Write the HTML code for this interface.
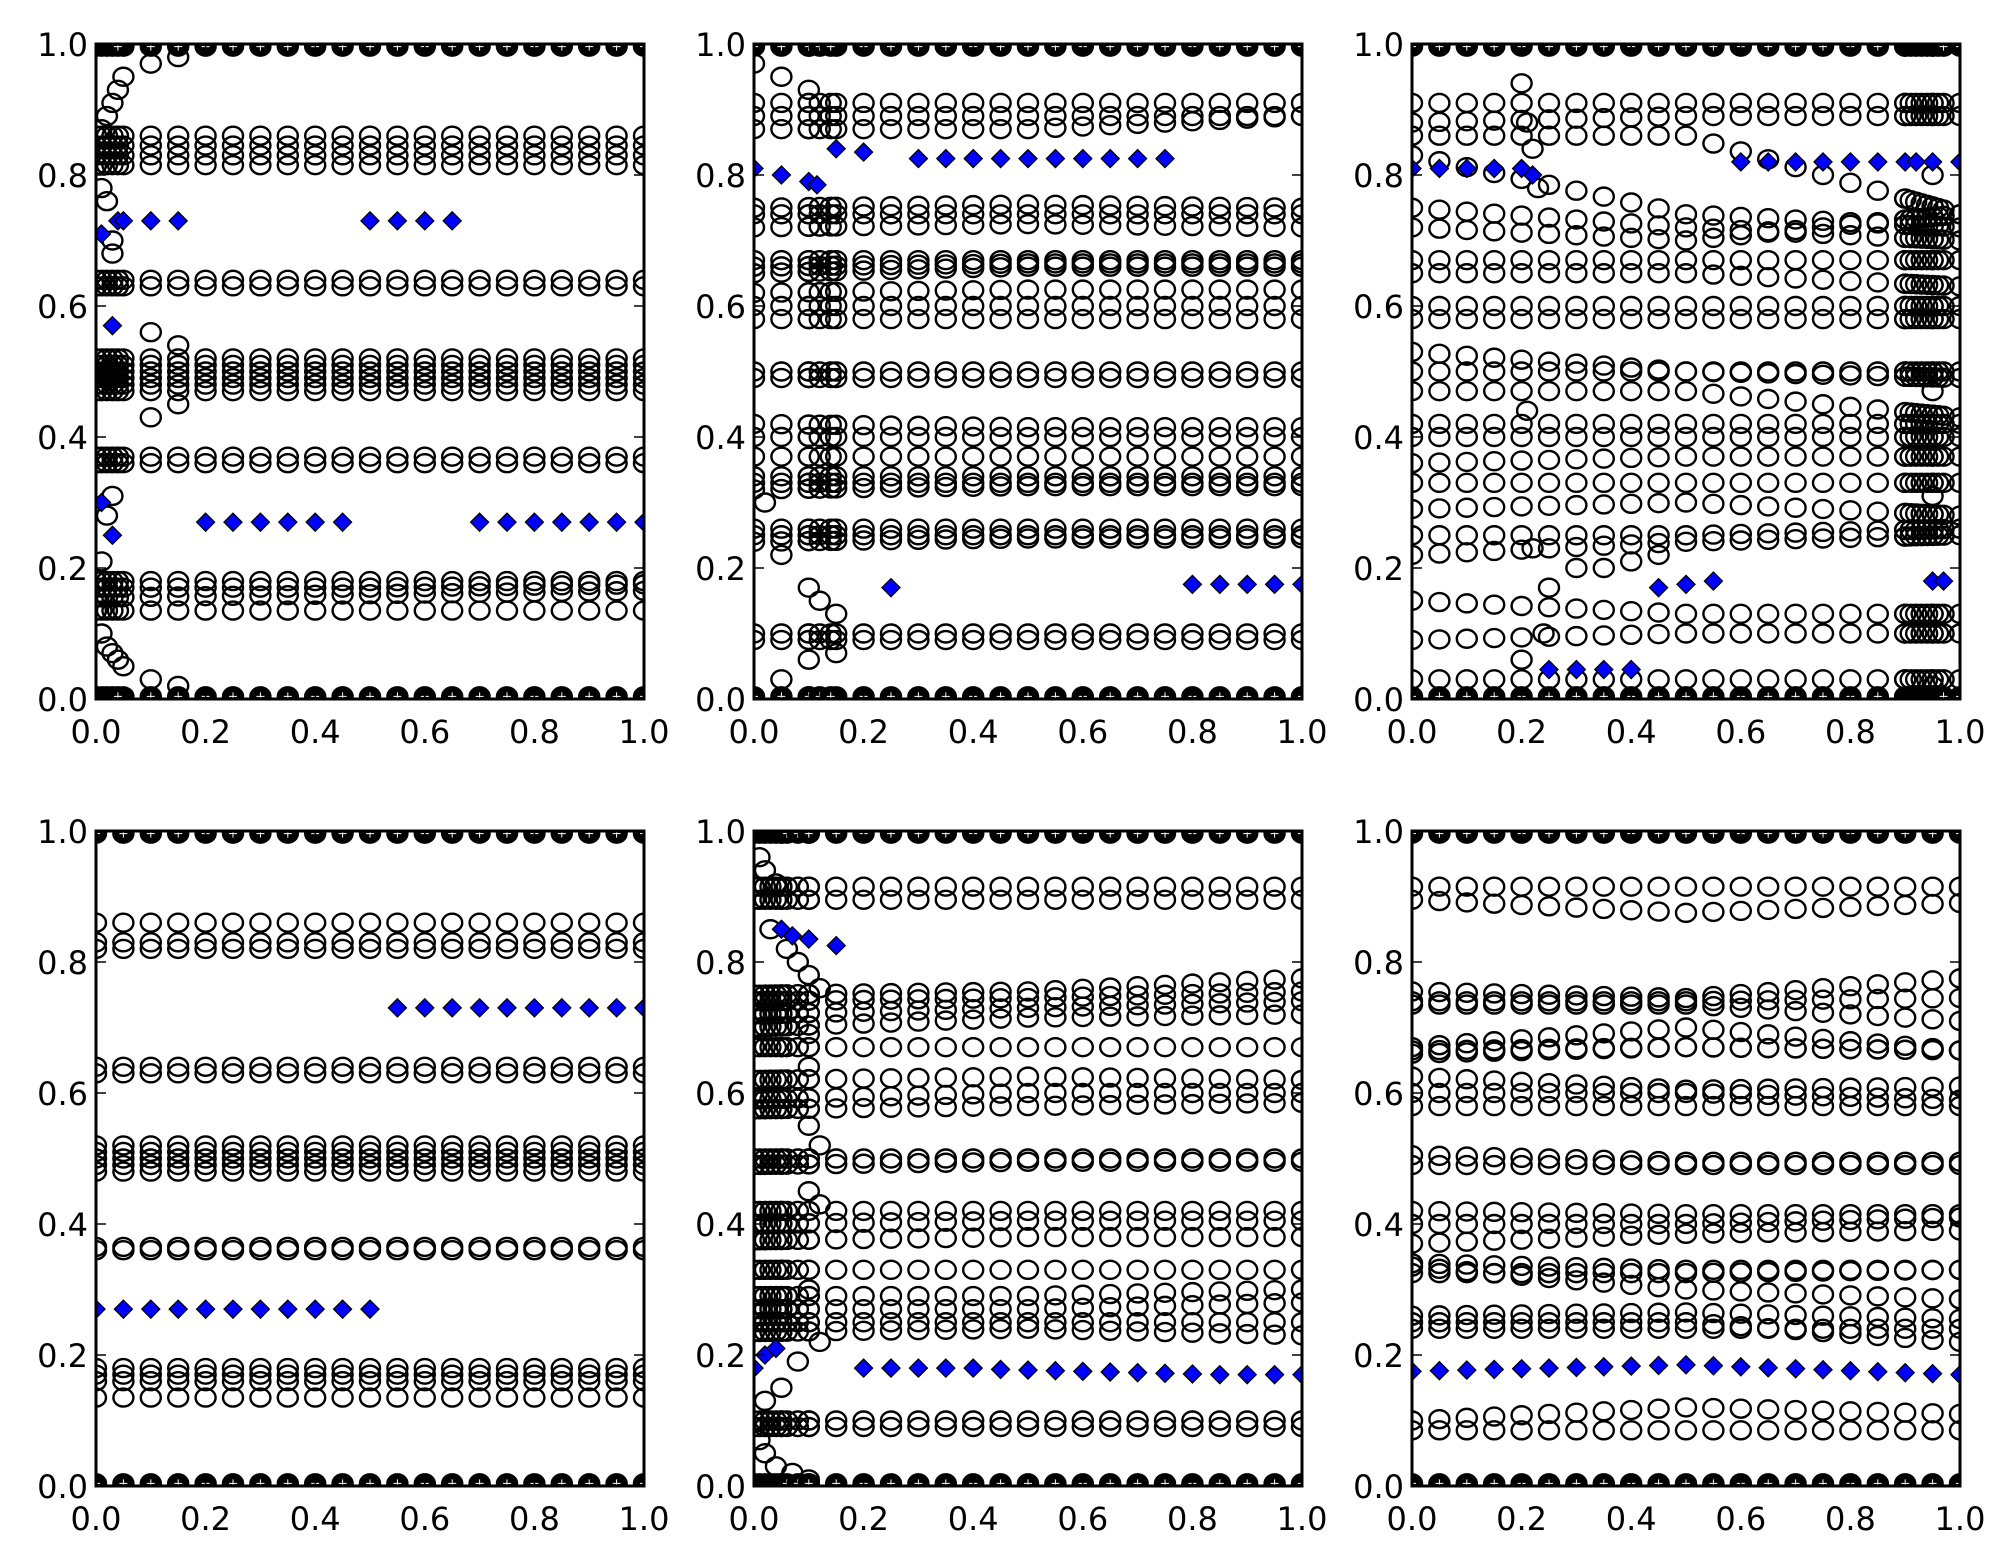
<!DOCTYPE html>
<html><head><meta charset="utf-8"><style>html,body{margin:0;padding:0;background:#fff}svg{display:block}</style></head>
<body>
<svg id="s" width="2004" height="1565" xmlns="http://www.w3.org/2000/svg" font-family="'DejaVu Sans','Liberation Sans',sans-serif"></svg>
<script>
const S=document.getElementById('s');
const NS='http://www.w3.org/2000/svg';
const W=548,H=655;
const panels=[[96,699],[754,699],[1412,699],[96,1486],[754,1486],[1412,1486]];
function el(t,a,p){const e=document.createElementNS(NS,t);for(const k in a)e.setAttribute(k,a[k]);(p||S).appendChild(e);return e;}
function interp(c,x){if(typeof c==='number')return c;const n=c.length-1;const f=x*n;const i=Math.min(n-1,Math.floor(f));const t=f-i;return c[i]*(1-t)+c[i+1]*t;}
const XS=[];for(let i=0;i<=20;i++)XS.push(i*0.05);
const data=[
 {lv:[.86,.845,.83,.815,.64,.63,.52,.51,.50,.49,.48,.47,.37,.36,.18,[.17,.17,.175],[.155,.16,.165],.135],
  extraX:[0,0.01,0.02,0.03,0.04],
  curve:[[.05,.95],[.04,.93],[.03,.91],[.02,.89],[.01,.87],[.01,.78],[.02,.76],[.03,.7],[.03,.68],[.1,.56],[.15,.54],[.1,.43],[.15,.45],[.03,.31],[.02,.28],[.01,.21],[.01,.1],[.02,.08],[.03,.07],[.04,.06],[.05,.05],[.1,.03],[.15,.02],[.1,.97],[.15,.98]],
  dm:[[.01,.71],[.04,.73],[.05,.73],[.1,.73],[.15,.73],[.5,.73],[.55,.73],[.6,.73],[.65,.73],[.03,.57],[.01,.3],[.03,.25],
   [.2,.27],[.25,.27],[.3,.27],[.35,.27],[.4,.27],[.45,.27],[.7,.27],[.75,.27],[.8,.27],[.85,.27],[.9,.27],[.95,.27],[1,.27]]},
 {lv:[.91,.89,[.87,.87,.89],[.75,.755,.75],[.74,.74,.74],[.72,.725,.72],[.67,.67,.67],[.66,.665,.665],[.65,.66,.66],[.62,.625,.625],[.6,.6,.6],[.58,.58,.58],.5,.49,[.42,.415,.415],[.4,.4,.4],[.37,.37,.37],[.34,.34,.34],[.33,.33,.33],[.32,.325,.325],[.26,.26,.26],[.25,.25,.25],[.24,.245,.245],.1,.09],
  extraX:[.1,.12,.14],
  curve:[[0,.97],[.05,.95],[.1,.93],[.02,.3],[.05,.22],[.1,.17],[.12,.15],[.15,.13],[.1,.06],[.15,.07],[.05,.03]],
  dm:[[0,.81],[.05,.8],[.1,.79],[.115,.785],[.15,.84],[.2,.835],[.3,.825],[.35,.825],[.4,.825],[.45,.825],[.5,.825],[.55,.825],[.6,.825],[.65,.825],[.7,.825],[.75,.825],[.25,.17],[.8,.175],[.85,.175],[.9,.175],[.95,.175],[1,.175]]},
 {lv:[.91,[.88,.89,.89],[.86,.86,.74],[.83,.74,.72],[.75,.72,.7],[.72,.7,.74],[.67,.67,.67],[.65,.65,.63],[.6,.6,.6],[.58,.58,.58],[.53,.5,.5],[.5,.5,.49],[.47,.47,.43],[.42,.42,.42],[.4,.4,.4],[.36,.37,.37],[.33,.33,.33],[.29,.3,.28],[.25,.25,.26],[.22,.24,.25],[.15,.13,.13],[.09,.1,.1],[.03,.03,.03]],
  extraX:[.9,.91,.92,.93,.94,.95,.96,.97],
  curve:[[.2,.94],[.21,.88],[.22,.84],[.23,.78],[.21,.44],[.22,.23],[.25,.17],[.24,.1],[.2,.06],[.95,.8],[.95,.47],[.95,.31],[.95,.02],[.3,.2],[.35,.2],[.4,.21],[.45,.22]],
  dm:[[0,.81],[.05,.81],[.1,.81],[.15,.81],[.2,.81],[.22,.8],[.6,.82],[.65,.82],[.7,.82],[.75,.82],[.8,.82],[.85,.82],[.9,.82],[.92,.82],[.95,.82],[1,.82],[.45,.17],[.5,.175],[.55,.18],[.95,.18],[.97,.18],[.25,.045],[.3,.045],[.35,.045],[.4,.045]]},
 {lv:[.86,.83,.82,.64,.63,.52,.51,.5,.49,.48,.365,.36,.18,.17,.16,.135],
  extraX:[],curve:[],
  dm:[[0,.27],[.05,.27],[.1,.27],[.15,.27],[.2,.27],[.25,.27],[.3,.27],[.35,.27],[.4,.27],[.45,.27],[.5,.27],[.55,.73],[.6,.73],[.65,.73],[.7,.73],[.75,.73],[.8,.73],[.85,.73],[.9,.73],[.95,.73],[1,.73]]},
 {lv:[.915,.895,[.75,.755,.775],[.74,.745,.755],[.72,.73,.74],[.7,.715,.72],[.67,.67,.67],[.62,.625,.62],[.59,.6,.6],[.575,.58,.585],[.5,.5,.5],[.49,.495,.495],[.42,.42,.42],[.4,.405,.405],[.375,.38,.38],[.33,.33,.33],[.29,.29,.3],[.27,.27,.28],[.25,.25,.25],[.235,.24,.23],.1,.09],
  extraX:[0,.01,.02,.03,.04,.05,.06,.08,.1],
  curve:[[.01,.96],[.02,.94],[.04,.92],[.03,.85],[.06,.82],[.08,.8],[.1,.78],[.12,.76],[.1,.69],[.1,.64],[.1,.55],[.12,.52],[.1,.45],[.12,.43],[.1,.3],[.12,.22],[.08,.19],[.05,.15],[.02,.13],[.01,.07],[.02,.05],[.04,.03],[.07,.02],[.1,.01]],
  dm:[[.05,.85],[.07,.84],[.1,.835],[.15,.825],[0,.18],[.02,.2],[.04,.21],[.2,.18],[.25,.18],[.3,.18],[.35,.18],[.4,.18],[.45,.178],[.5,.177],[.55,.176],[.6,.175],[.65,.174],[.7,.173],[.75,.172],[.8,.171],[.85,.17],[.9,.17],[.95,.17],[1,.17]]},
 {lv:[[.915,.915,.915],[.895,.875,.89],[.755,.745,.775],[.74,.74,.745],[.735,.735,.71],[.67,.7,.665],[.665,.67,.665],[.66,.67,.665],[.625,.605,.61],[.6,.6,.59],[.58,.58,.58],[.505,.495,.495],[.49,.49,.49],[.42,.415,.415],[.4,.4,.41],[.37,.385,.39],[.34,.33,.33],[.335,.3,.285],[.325,.325,.33],[.26,.265,.255],[.25,.25,.22],[.24,.24,.24],[.1,.12,.11],[.085,.085,.085]],
  extraX:[],curve:[],
  dm:XS.map(x=>[x,x<=0.5?.175+0.02*x:.185-(x-0.5)*0.03])}
];
panels.forEach(([L,B],pi)=>{
  const T=B-H;const d=data[pi];
  const id='c'+pi;
  const cp=el('clipPath',{id:id});el('rect',{x:L,y:T,width:W,height:H},cp);
  const g=el('g',{'clip-path':`url(#${id})`});
  const px=x=>L+x*W, py=y=>B-y*H;
  const circ=(x,y,fill)=>el('ellipse',{cx:px(x),cy:py(y),rx:10,ry:9,fill:fill?'#000':'none',stroke:'#000','stroke-width':2.4},g);
  const xsAll=XS.concat(d.extraX);
  d.lv.forEach(c=>xsAll.forEach(x=>circ(x,interp(c,x),false)));
  d.curve.forEach(([x,y])=>circ(x,y,false));
  XS.concat(d.extraX).forEach(x=>{circ(x,0.004,true);circ(x,0.996,true);
    el('path',{d:`M${px(x)-4},${py(0.004)}h8M${px(x)},${py(0.004)-4}v8M${px(x)-4},${py(0.996)}h8M${px(x)},${py(0.996)-4}v8`,stroke:'#fff','stroke-width':1},g);});
  d.dm.forEach(([x,y])=>{const cx=px(x),cy=py(y);
    el('path',{d:`M${cx},${cy-9}L${cx+9},${cy}L${cx},${cy+9}L${cx-9},${cy}Z`,fill:'#0000ff',stroke:'#000','stroke-width':1.3},g);});
  el('rect',{x:L,y:T,width:W,height:H,fill:'none',stroke:'#000','stroke-width':3});
  for(let i=0;i<=5;i++){const v=i*0.2;const X=px(v),Y=py(v);
    el('path',{d:`M${X},${B}v-10M${X},${T}v10M${L},${Y}h10M${L+W},${Y}h-10`,stroke:'#000','stroke-width':1.5});
    const t1=el('text',{x:L-8,y:Y+12,'font-size':32,'text-anchor':'end',fill:'#000'});t1.textContent=v.toFixed(1);
    const t2=el('text',{x:X,y:B+44,'font-size':32,'text-anchor':'middle',fill:'#000'});t2.textContent=v.toFixed(1);
  }
});
</script>
</body></html>
